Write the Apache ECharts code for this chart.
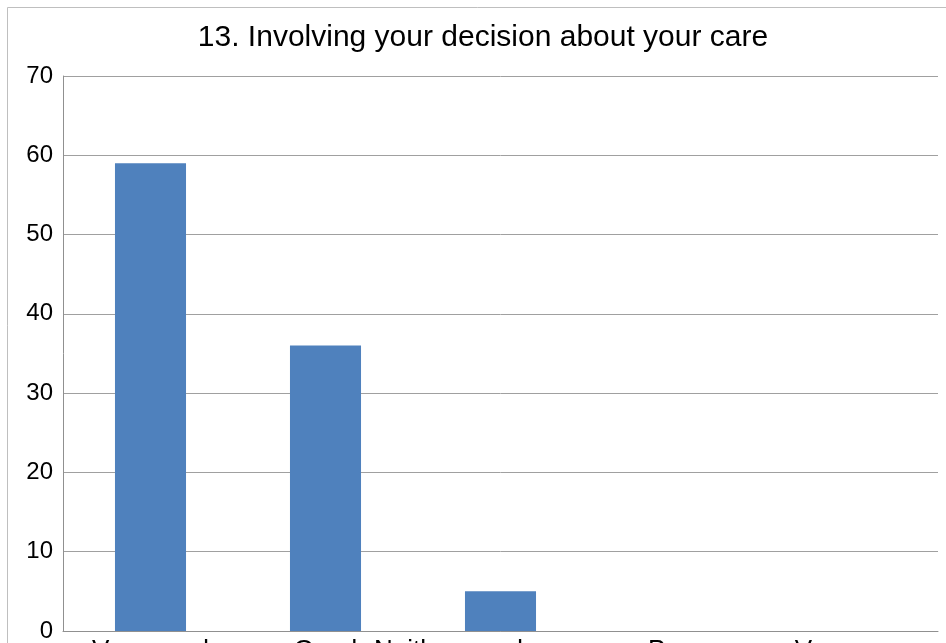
<!DOCTYPE html>
<html>
<head>
<meta charset="utf-8">
<script src="https://cdn.jsdelivr.net/npm/echarts@6/dist/echarts.min.js"></script>
<style>
html,body{margin:0;padding:0;background:#fff;}
#chart{width:946px;height:643px;}
</style>
</head>
<body>
<div id="chart"></div>
<script>
const titleText = "13. Involving your decision about your care";
const categories = ["Very good", "Good", "Neither good nor poor", "Poor", "Very poor"];
const values = [59, 36, 5, 0, 0];
const yTicks = { min: 0, max: 70, interval: 10 };

const chart = echarts.init(document.getElementById('chart'), null, { renderer: 'canvas' });
chart.setOption({
  animation: false,
  backgroundColor: '#ffffff',
  title: {
    text: titleText,
    left: 478,
    textAlign: 'center',
    top: 18,
    textStyle: { fontFamily: 'Liberation Sans, Arial, sans-serif', fontSize: 30, fontWeight: 'normal', color: '#000000' }
  },
  graphic: [{
    type: 'rect',
    silent: true,
    shape: { x: 7.5, y: 7.5, width: 1200, height: 1200 },
    style: { fill: 'none', stroke: '#bfbfbf', lineWidth: 1 }
  }],
  grid: { left: 63, right: 8, top: 76, bottom: 12, containLabel: false, outerBoundsMode: 'none' },
  xAxis: {
    type: 'category',
    data: categories,
    axisLine: { show: true, lineStyle: { color: '#909090', width: 1 } },
    axisTick: { show: false },
    axisLabel: { interval: 0, hideOverlap: false, margin: 7, fontFamily: 'Liberation Sans, Arial, sans-serif', fontSize: 26, color: '#000000' }
  },
  yAxis: {
    type: 'value',
    min: yTicks.min,
    max: yTicks.max,
    interval: yTicks.interval,
    axisLine: { show: true, lineStyle: { color: '#909090', width: 1 } },
    axisTick: { show: false },
    axisLabel: { margin: 10, fontFamily: 'Liberation Sans, Arial, sans-serif', fontSize: 24, color: '#000000' },
    splitLine: { show: true, lineStyle: { color: '#a0a0a0', width: 1 } }
  },
  series: [{
    type: 'bar',
    data: values,
    barWidth: '40.6%',
    itemStyle: { color: '#4F81BD' }
  }]
});
</script>
</body>
</html>
